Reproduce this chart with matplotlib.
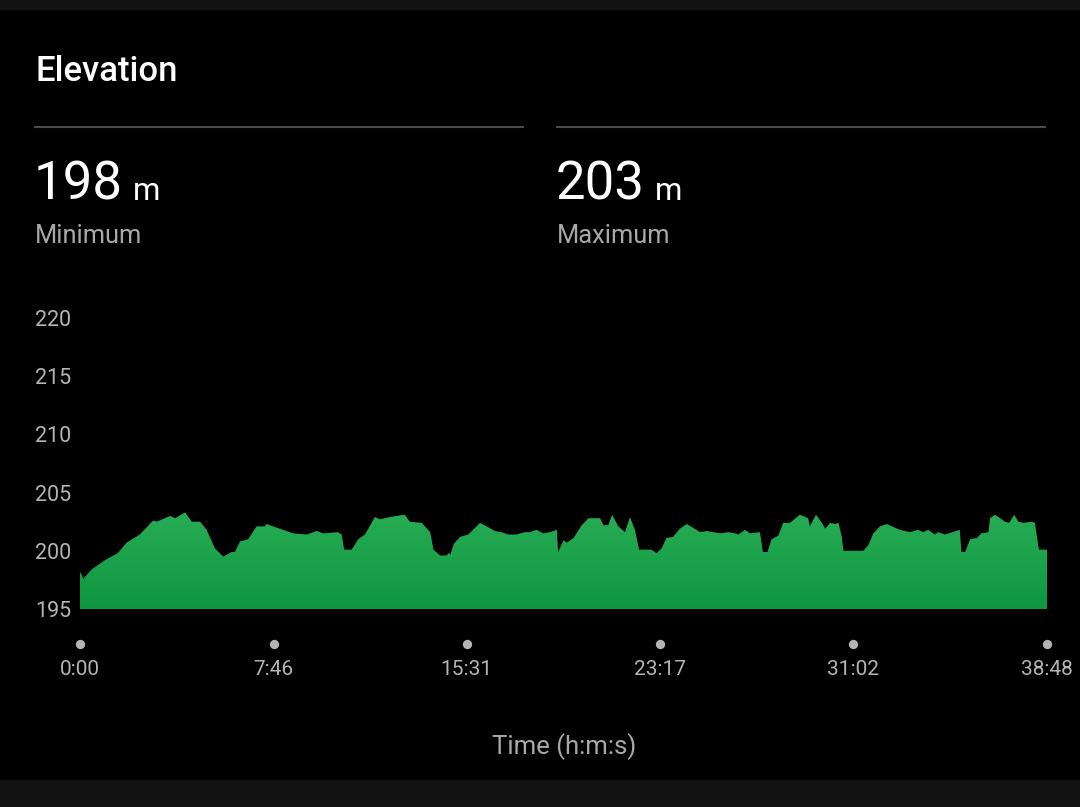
import numpy as np
import matplotlib.pyplot as plt
from matplotlib.colors import LinearSegmentedColormap

plt.rcParams['font.family'] = ['Roboto', 'DejaVu Sans']

# Elevation profile (seconds, metres)
time_s = [0, 2, 8, 28, 60, 91, 112, 144, 176, 185, 217, 229, 253, 269, 289, 305,
          325, 345, 365, 373, 385, 405, 425, 445, 449, 481, 513, 546, 570, 585,
          621, 630, 636, 654, 670, 686, 710, 722, 746, 782, 794, 823, 843, 851,
          867, 883, 887, 892, 900, 915, 935, 963, 979, 999, 1015, 1031, 1051,
          1071, 1083, 1099, 1115, 1131, 1148, 1151, 1164, 1172, 1188, 1208, 1224,
          1252, 1260, 1272, 1281, 1296, 1312, 1324, 1336, 1346, 1376, 1388, 1400,
          1412, 1428, 1444, 1461, 1493, 1509, 1525, 1541, 1561, 1577, 1585, 1601,
          1613, 1637, 1644, 1655, 1665, 1681, 1693, 1709, 1733, 1753, 1757, 1772,
          1786, 1794, 1806, 1818, 1826, 1834, 1838, 1886, 1898, 1910, 1926, 1942,
          1974, 1998, 2018, 2030, 2042, 2058, 2066, 2082, 2118, 2122, 2131, 2143,
          2159, 2170, 2187, 2191, 2203, 2227, 2237, 2249, 2259, 2271, 2291, 2299,
          2307, 2309, 2328]
elevation = [198.1, 198.1, 197.6, 198.4, 199.2, 199.8, 200.7, 201.4, 202.6, 202.5,
             203.0, 202.8, 203.3, 202.5, 202.5, 201.8, 200.2, 199.5, 199.9, 199.9,
             200.8, 201.0, 202.1, 202.1, 202.3, 201.9, 201.5, 201.4, 201.7, 201.5,
             201.6, 201.4, 200.1, 200.1, 201.0, 201.4, 202.9, 202.7, 202.9, 203.1,
             202.5, 202.4, 201.6, 200.1, 199.6, 199.6, 199.8, 199.7, 200.6, 201.2,
             201.4, 202.4, 202.1, 201.7, 201.6, 201.4, 201.4, 201.6, 201.6, 201.8,
             201.5, 201.6, 201.8, 199.9, 200.9, 200.7, 201.1, 202.2, 202.8, 202.8,
             202.2, 202.2, 203.1, 202.1, 201.6, 202.9, 201.8, 200.1, 200.1, 199.8,
             200.2, 201.1, 201.2, 201.9, 202.3, 201.6, 201.7, 201.6, 201.5, 201.6,
             201.5, 201.4, 201.8, 201.5, 201.6, 199.9, 199.9, 201.0, 201.3, 202.4,
             202.4, 203.1, 202.8, 202.1, 203.1, 202.4, 201.9, 202.4, 202.3, 202.4,
             201.2, 200.0, 200.0, 200.5, 201.5, 202.1, 202.3, 201.8, 201.6, 201.8,
             201.6, 201.8, 201.4, 201.6, 201.4, 201.8, 199.9, 199.9, 201.0, 201.1,
             201.5, 201.6, 202.8, 203.1, 202.5, 202.4, 203.1, 202.5, 202.4, 202.5,
             202.4, 200.4, 200.1, 200.1]

y_ticks = [195, 200, 205, 210, 215, 220]
x_ticks = [0, 466, 931, 1397, 1862, 2328]
x_labels = ['0:00', '7:46', '15:31', '23:17', '31:02', '38:48']

min_value = '198'
max_value = '203'

W, H = 1080, 807
fig = plt.figure(figsize=(W / 100, H / 100), dpi=100, facecolor='black')

# dark strips top and bottom
fig.patches.append(plt.Rectangle((0, 1 - 9 / H), 1, 9 / H, transform=fig.transFigure,
                                 color='#111111', zorder=0))
fig.patches.append(plt.Rectangle((0, 0), 1, 27 / H, transform=fig.transFigure,
                                 color='#111111', zorder=0))

# header
fig.text(35 / W, 1 - 81 / H, 'Elevation', color='white', fontsize=25,
         fontweight='medium', ha='left', va='baseline')
for x0, x1 in [(35, 523), (557, 1045)]:
    fig.add_artist(plt.Line2D([x0 / W, x1 / W], [1 - 127 / H] * 2, color='#4a4a4a', lw=1.5))

for xp, val, name in [(34, min_value, 'Minimum'), (556, max_value, 'Maximum')]:
    t = fig.text(xp / W, 1 - 200 / H, val, color='white', fontsize=38, ha='left', va='baseline')
    fig.canvas.draw()
    bb = t.get_window_extent()
    fig.text((bb.x1 + 10) / W, 1 - 200 / H, 'm', color='white', fontsize=22.5,
             ha='left', va='baseline')
    fig.text((xp + 1) / W, 1 - 243 / H, name, color='#a8a8a8', fontsize=18.3,
             ha='left', va='baseline')

# chart
ax = fig.add_axes([80 / W, 1 - 609 / H, 967 / W, 291 / H])
ax.set_facecolor('black')
ax.set_xlim(0, 2328)
ax.set_ylim(195, 220)
for s in ax.spines.values():
    s.set_visible(False)

poly = ax.fill_between(time_s, elevation, 195, color='none', lw=0)
cmap = LinearSegmentedColormap.from_list('g', ['#0f9640', '#28ad56'])
grad = np.linspace(0, 1, 256).reshape(-1, 1)
im = ax.imshow(grad, cmap=cmap, origin='lower', aspect='auto',
               extent=[0, 2328, 195, max(elevation)], zorder=2)
im.set_clip_path(poly.get_paths()[0], transform=ax.transData)

ax.set_yticks(y_ticks)
ax.set_yticklabels([str(v) for v in y_ticks], ha='left')
ax.tick_params(axis='y', length=0, pad=32.5, labelsize=15.5, labelcolor='#b4b4b4')
ax.set_xticks(x_ticks)
ax.set_xticklabels(x_labels)
ax.tick_params(axis='x', length=0, pad=36.5, labelsize=15, labelcolor='#b4b4b4')

ax.scatter(x_ticks, [-35 / 291] * len(x_ticks), s=45, color='#b4b4b4',
           transform=ax.get_xaxis_transform(), clip_on=False, zorder=3, lw=0)

ax.set_xlabel('Time (h:m:s)', color='#a8a8a8', fontsize=18.5, labelpad=39)
ax.xaxis.label.set_position((484 / 967, 0))

fig.savefig('out.png', dpi=100, facecolor='black')
